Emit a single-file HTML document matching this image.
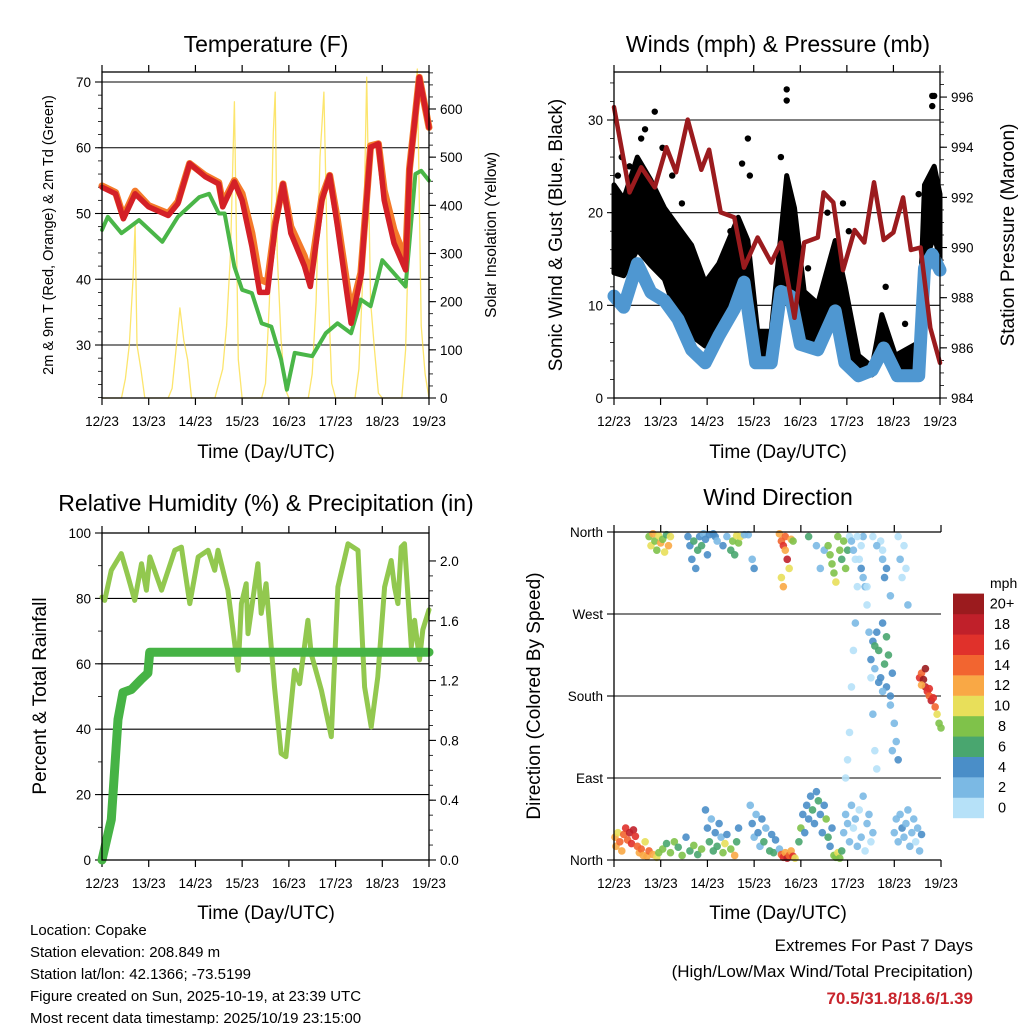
<!DOCTYPE html>
<html><head><meta charset="utf-8"><style>
html,body{margin:0;padding:0;background:#fff}
svg{display:block;font-family:"Liberation Sans",sans-serif}
</style></head><body>
<svg id="fig" width="1024" height="1024" viewBox="0 0 1024 1024">
<rect width="1024" height="1024" fill="#fff"/>
<text x="266" y="52" font-size="23" text-anchor="middle">Temperature (F)</text>
<text x="778" y="52" font-size="23" text-anchor="middle">Winds (mph) &amp; Pressure (mb)</text>
<text x="266" y="511" font-size="23" text-anchor="middle">Relative Humidity (%) &amp; Precipitation (in)</text>
<text x="778" y="505" font-size="23" text-anchor="middle">Wind Direction</text>
<text x="266" y="458" font-size="19" text-anchor="middle">Time (Day/UTC)</text>
<text x="778" y="458" font-size="19" text-anchor="middle">Time (Day/UTC)</text>
<text x="266" y="919" font-size="19" text-anchor="middle">Time (Day/UTC)</text>
<text x="778" y="919" font-size="19" text-anchor="middle">Time (Day/UTC)</text>
<text transform="translate(53,235) rotate(-90)" font-size="14.5" text-anchor="middle">2m &amp; 9m T (Red, Orange) &amp; 2m Td (Green)</text>
<text transform="translate(496,235) rotate(-90)" font-size="15.5" text-anchor="middle">Solar Insolation (Yellow)</text>
<text transform="translate(562,235) rotate(-90)" font-size="19" text-anchor="middle">Sonic Wind &amp; Gust (Blue, Black)</text>
<text transform="translate(1014,235) rotate(-90)" font-size="19" text-anchor="middle">Station Pressure (Maroon)</text>
<text transform="translate(46,696) rotate(-90)" font-size="19" text-anchor="middle">Percent &amp; Total Rainfall</text>
<text transform="translate(540,696) rotate(-90)" font-size="19" text-anchor="middle">Direction (Colored By Speed)</text>
<g font-size="15">
<text x="30" y="935">Location: Copake</text>
<text x="30" y="957">Station elevation: 208.849 m</text>
<text x="30" y="979">Station lat/lon: 42.1366; -73.5199</text>
<text x="30" y="1001">Figure created on Sun, 2025-10-19, at 23:39 UTC</text>
<text x="30" y="1023">Most recent data timestamp: 2025/10/19 23:15:00</text>
</g>
<text x="973" y="951" font-size="17" text-anchor="end">Extremes For Past 7 Days</text>
<text x="973" y="977" font-size="17" text-anchor="end">(High/Low/Max Wind/Total Precipitation)</text>
<text x="973" y="1004" font-size="17" font-weight="bold" fill="#c8242c" text-anchor="end">70.5/31.8/18.6/1.39</text>
</svg>
<script>
// ---------- DATA ----------
const dayLabels=["12/23","13/23","14/23","15/23","16/23","17/23","18/23","19/23"];
const tempHours=[0,7,11,17,24,34,39,45,53,60,62,68,72,77,81,85,89,93,97,104,107,113,117,121,128,133,138,142,145,150,156,158,163,168];
const tempRed=[54,53,49.2,53,51,49.7,51.5,57.6,55.6,54.5,51,54.8,52,45,38,38,48,54.5,47,42,38.9,52,55.8,48,33.3,40.4,60.1,60.6,52,45.5,41.4,56.6,70.7,63.1];
const tempOrange=[54.2,53.2,49.5,53.4,51.2,50,51.8,57.6,55.8,54.7,51.5,55,53,47,40,39.5,48.5,54.5,48,43.5,40.5,52.5,55.8,49,35,41,60.3,60.6,53.5,47.5,43,56.8,70.7,63.1];
const dewHours=[0,3,10,19,31,39,50,55,60,63,68,72,77,82,87,92,95,99,108,115,121,128,133,138,144,150,156,161,164,168];
const dewPoint=[47.5,49.5,47,49,45.7,49.5,52.5,53,50,50,41.9,38.4,37.9,33.3,32.8,27.8,23.2,28.8,28.3,31.8,33.3,31.8,36.9,35.9,42.9,40.9,38.9,56,56.5,55];
const solarHours=[0,10,12,14,16,17,18,20,22,24,34,36,38,40,42,44,46,48,58,60,62,64,66,68,70,72,82,84,86,88,89,90,92,94,96,106,108,110,112,114,116,118,120,130,132,134,136,138,140,142,144,154,156,158,160,162,164,166,168];
const solarVals=[0,0,40,110,250,360,110,60,0,0,0,20,100,187,120,80,0,0,0,30,60,150,300,615,80,0,0,30,200,550,635,300,120,20,0,0,50,200,500,635,250,30,0,0,60,250,666,200,100,10,0,0,100,400,560,683,150,50,0];
const presHours=[0,4,8,14,21,27,32,38,45,49,55,62,67,74,81,86,93,98,105,108,113,118,124,129,134,139,144,149,153,158,163,168];
const pressure=[995.6,993.9,992.2,993.2,992.4,994.0,993.0,995.1,993.1,993.9,991.4,991.2,989.2,990.4,989.4,990.2,987.2,990.2,990.4,992.2,991.8,989.1,990.7,990.2,992.6,990.3,990.6,992.0,989.9,990.0,986.8,985.4];
const windHours=[0,5,12,19,26,33,40,47,54,62,67,73,81,86,91,96,105,114,119,126,133,139,146,157,160,164,168];
const windSpeed=[11,9.8,14.5,11.4,10.5,8.5,5.2,3.8,6.7,9.6,12.5,3.8,3.8,11.5,11,5.8,5.2,9.4,3.8,2.4,3,5.4,2.4,2.4,14,15.5,13.8];
const gustHours=[0,5,12,19,26,33,40,47,54,64,69,74,81,89,93,98,105,114,119,126,133,138,145,157,160,165,168];
const gustHigh=[23,21.5,26,23.5,20.5,18.5,16.5,12.5,14.5,19.5,17,7.2,7.2,24,20.5,11.5,10.2,17,12.2,4.6,3.4,9,4.6,6,23,25,22];
const gustLow=[13.5,13.2,16,14.3,12.8,8.5,6.7,5.6,7.8,11,10.5,4.1,4.1,13.8,11.4,5.6,5.6,11,5.9,2.9,2.5,4.9,2.9,3.2,14.5,17.5,15];
const gustOutHours=[21,16,89,89,69,66,164,165,164,157,118,121,4,8,25,30,35,60,70,86,100,110,140,150,2,14];
const gustOutVals=[30.9,29,33.3,32.1,28,25.3,32.6,32.6,31.5,22,21,18,26,25,27,24,21,18,24,26,14,20,12,8,24,28];
const rhHours=[0,1.4,4.8,9.9,13.4,16.8,20.3,22.8,24.6,30.6,37.4,40.8,45.1,49.4,54.5,57.9,59.6,64.7,69.9,71.6,74.1,75,80.1,81.8,84.3,88.6,92,94.5,98.9,101.5,105.8,107.5,112.7,117.8,121.2,126.4,131.5,134.9,138.3,141.7,145.2,148.6,150.3,152,153.7,155.4,158.9,160.6,163.1,164.8,168];
const rhVals=[80.4,79.4,88.6,93.7,86.6,79.4,90.6,82.5,92.7,82.5,94.7,95.7,78.4,92.7,94.7,88.6,94.7,82.5,58,78.4,84.5,69.2,90.6,75.4,84.5,52.9,32.6,31.6,58,53.9,73.3,63.1,51.9,37.7,83.5,96.7,94.7,52.9,40.7,56,83.5,91.6,83.5,78.4,95.7,96.7,65.2,73.3,61.2,70.4,76.5];
const precipHours=[0,4.8,8.2,10.8,15.1,20.3,23.6,24.5,30.6,168];
const precipVals=[0,0.27,0.94,1.12,1.14,1.21,1.25,1.39,1.39,1.39];
const dirHours=[0.5,1,2,3,4,5,6,7,8,9,10,11,12,13,14,15,16,17,18,20,22,23,25,27,29,31,33,35,37,39,41,43,45,47,48,49,50,51,52,53,54,55,56,57,58,60,62,63,64,70,71,72,73,74,75,76,77,78,80,81,82,83,85,86,87,88,89,90,91,92,93,95,96,97,98,99,100,101,102,103,104,105,106,107,108,109,110,111,112,113,114,115,116,117,118,119,120,121,122,123,124,125,126,127,128,129,130,131,132,133,144,145,146,147,148,149,150,151,152,153,154,155,156,157,158,119,120,121,122,123,124,125,126,127,128,129,130,131,132,133,134,135,137,138,139,132,133,134,135,136,137,138,139,140,141,142,143,138,136,140,142,134,144,145,146,143,157,158,159,160,161,162,163,164,165,166,167,168,158,160,162,18,19,20,21,22,23,24,25,26,27,28,29,38,39,40,41,42,43,44,45,46,47,48,49,51,52,53,56,58,60,61,62,63,64,65,67,69,71,72,85,86,87,88,89,90,86,87,88,91,92,100,104,106,108,110,111,112,113,114,115,116,117,118,119,120,121,122,123,124,125,127,128,130,133,135,138,140,142,146,147,148,149,150,151];
const dirDeg=[25,15,30,20,10,28,35,22,30,18,33,26,15,8,12,5,20,4,10,6,3,8,12,18,8,20,14,5,25,10,16,6,12,55,35,20,45,10,30,15,40,25,8,18,28,12,5,20,35,60,40,25,50,30,15,45,20,35,10,28,8,22,12,6,3,8,2,5,10,4,2,20,35,50,30,60,45,70,55,40,75,65,50,30,60,45,25,15,35,5,3,8,2,10,30,50,40,20,60,35,45,15,55,25,70,10,40,50,20,30,30,45,20,50,35,25,40,55,15,30,45,20,35,10,28,90,110,140,190,230,260,300,330,345,355,300,280,250,200,160,120,100,350,330,310,220,240,210,250,230,200,260,215,190,225,180,205,185,195,245,170,235,150,130,110,120,200,205,198,190,185,180,175,178,168,160,150,145,192,210,188,355,345,358,350,340,356,348,352,338,357,345,355,355,345,330,350,320,340,355,345,358,352,335,357,358,355,350,345,355,340,350,335,356,348,355,357,357,330,320,358,350,345,340,330,320,310,300,355,352,350,355,345,320,340,345,335,325,315,305,355,340,330,350,320,340,355,350,340,330,355,320,310,300,355,345,340,320,290,355,330,310,345,320,280];
const dirSpeed=[12,12,10,14,12,14,16,14,18,16,18,16,14,12,14,12,10,12,14,12,10,8,8,6,8,8,6,8,4,6,8,6,8,4,4,6,2,6,4,6,4,2,8,10,4,8,12,6,4,2,4,2,2,4,2,4,6,2,6,4,6,4,2,14,16,12,18,14,12,16,10,6,8,4,4,4,4,4,6,4,4,6,4,4,4,8,6,4,4,8,8,10,8,6,2,2,2,2,2,0,2,2,0,2,2,0,2,2,0,2,2,2,2,2,4,2,2,2,2,2,2,0,2,2,4,0,0,0,0,0,2,0,0,0,2,2,0,2,0,2,0,0,0,2,4,4,4,2,4,6,4,4,6,4,6,4,4,2,4,6,2,6,2,2,4,2,16,14,20,18,16,14,18,16,14,10,8,8,12,20,16,8,10,12,8,8,10,12,8,10,6,12,10,4,4,4,6,4,6,4,6,2,4,4,4,4,4,2,4,2,6,8,6,10,8,10,2,2,2,4,12,14,16,12,18,10,10,12,14,12,8,6,2,2,2,8,8,8,8,10,8,8,6,8,8,6,0,2,2,0,0,4,2,0,0,2,0,4,2,0,2,0,0,0,2];
const speedColors=["#b6e1f8","#7bb9e4","#4a8ec8","#49a66f","#7fc24a","#e8df5a","#f9a845","#f26530","#e0312b","#c0202a","#9b1b1e"];
const speedLabels=["0","2","4","6","8","10","12","14","16","18","20+"];
const tempTicks=[30,40,50,60,70];
const solarTicks=[0,100,200,300,400,500,600];
const windTicks=[0,10,20,30];
const presTicks=[984,986,988,990,992,994,996];
const rhTicks=[0,20,40,60,80,100];
const precipTicks=[0,0.4,0.8,1.2,1.6,2.0];
const dirTicks=[0,90,180,270,360];
const dirTickLabels=["North","East","South","West","North"];

// ---------- HELPERS ----------
const NS="http://www.w3.org/2000/svg";
const svg=document.getElementById('fig');
function mk(tag,attrs,parent){const e=document.createElementNS(NS,tag);for(const k in attrs)e.setAttribute(k,attrs[k]);(parent||svg).appendChild(e);return e;}
function lin(d0,d1,r0,r1){return v=>r0+(v-d0)*(r1-r0)/(d1-d0);}
function pathD(xs,ys,fx,fy){return xs.map((h,i)=>(i?'L':'M')+fx(h).toFixed(1)+','+fy(ys[i]).toFixed(1)).join('');}

function frame(P,name){
  const g=mk('g',{});
  
  
  const fx=lin(0,168,P.x0,P.x1);
  for(let d=0;d<=7;d++){
    const x=fx(d*24);
    const t1=mk('line',{x1:x,x2:x,y1:P.y1,y2:P.y1+7,stroke:'#000','stroke-width':1.2},g);
    
    
    const t2=mk('line',{x1:x,x2:x,y1:P.y0-7,y2:P.y0,stroke:'#000','stroke-width':1.2},g);
    
    
    const lb=mk('text',{x:x,y:P.y1+28,'font-size':13.5,'text-anchor':'middle'},g);
    lb.textContent=dayLabels[d];
    
    
  }
  return fx;
}
function yAxis(P,g,ticks,labels,fy,side,grid,minorStep,dmin,dmax){
  const xa=side==='l'?P.x0:P.x1;
  ticks.forEach((v,i)=>{
    const y=fy(v);
    if(grid){const gl=mk('line',{x1:P.x0,x2:P.x1,y1:y,y2:y,stroke:'#000','stroke-width':1.1},g);
      
      }
    const tk=mk('line',{x1:xa,x2:side==='l'?xa-7:xa+7,y1:y,y2:y,stroke:'#000','stroke-width':1.1},g);
    
    
    const lb=mk('text',{x:side==='l'?xa-11:xa+11,y:y+5,'font-size':13.5,'text-anchor':side==='l'?'end':'start'},g);
    lb.textContent=labels?labels[i]:String(v);
    
    
  });
  if(minorStep){
    for(let v=Math.ceil(dmin/minorStep)*minorStep;v<=dmax;v+=minorStep){
      const y=fy(v);
      const mt=mk('line',{x1:xa,x2:side==='l'?xa-4:xa+4,y1:y,y2:y,stroke:'#000','stroke-width':0.8},g);
      
      
    }
  }
}
function border(P,name){
  const r=mk('rect',{x:P.x0,y:P.y0,width:P.x1-P.x0,height:P.y1-P.y0,fill:'none',stroke:'#000','stroke-width':1.3});
  
  
}
function line(xs,ys,fx,fy,color,w,name,op){
  const p=mk('path',{d:pathD(xs,ys,fx,fy),fill:'none',stroke:color,'stroke-width':w,'stroke-linejoin':'round','stroke-linecap':'round','stroke-opacity':op||1});
  
  
  return p;
}

// ---------- PANEL 1: TEMPERATURE ----------
const P1={x0:102,x1:429,y0:72,y1:398};
const fx1=frame(P1,'temperature');
const fyT=lin(21.94,71.52,P1.y1,P1.y0);
const fyS=lin(0,676.8,P1.y1,P1.y0);
const g1=mk('g',{});


yAxis(P1,g1,tempTicks,null,fyT,'l',true,2,22,70);
yAxis(P1,g1,solarTicks,null,fyS,'r',false,25,0,675);
line(solarHours,solarVals,fx1,fyS,'#fbdc3c',1.3,'solar-insolation-line',0.75);
line(dewHours,dewPoint,fx1,fyT,'#4ab648',4,'dewpoint-line');
line(tempHours,tempOrange,fx1,fyT,'#f47a2a',7,'temp-9m-line');
line(tempHours,tempRed,fx1,fyT,'#d42027',5.5,'temp-2m-line');
border(P1,'temperature');

// ---------- PANEL 2: WINDS ----------
const P2={x0:614,x1:940,y0:72,y1:398};
const fx2=frame(P2,'winds');
const fyW=lin(0,35.18,P2.y1,P2.y0);
const fyP=lin(984,997.0,P2.y1,P2.y0);
const g2=mk('g',{});


yAxis(P2,g2,windTicks,null,fyW,'l',true,2,0,34);
yAxis(P2,g2,presTicks,null,fyP,'r',false,0.5,984,997);
const bandD=pathD(gustHours,gustHigh,fx2,fyW)+gustHours.slice().reverse().map((h,i)=>'L'+fx2(h).toFixed(1)+','+fyW(gustLow[gustLow.length-1-i]).toFixed(1)).join('')+'Z';
const band=mk('path',{d:bandD,fill:'#000',stroke:'#000','stroke-width':5,'stroke-linejoin':'round'});


gustOutHours.forEach((h,i)=>{
  const c=mk('circle',{cx:fx2(h),cy:fyW(gustOutVals[i]),r:3.2,fill:'#000'});
  
  
});
line(windHours,windSpeed,fx2,fyW,'#4f97d1',13,'sonic-wind-line');
line(presHours,pressure,fx2,fyP,'#9b1b1e',4.5,'pressure-line');
border(P2,'winds');

// ---------- PANEL 3: RH & PRECIP ----------
const P3={x0:102,x1:429,y0:533,y1:860};
const fx3=frame(P3,'humidity');
const fyR=lin(0,100,P3.y1,P3.y0);
const fyPr=lin(0,2.187,P3.y1,P3.y0);
const g3=mk('g',{});


yAxis(P3,g3,rhTicks,null,fyR,'l',true,10,0,100);
yAxis(P3,g3,precipTicks,precipTicks.map(v=>v.toFixed(1)),fyPr,'r',false,0.1,0,2.1);
line(rhHours,rhVals,fx3,fyR,'#92c84f',5,'relative-humidity-line');
line(precipHours,precipVals,fx3,fyPr,'#46b345',9,'precipitation-line');
border(P3,'humidity');

// ---------- PANEL 4: WIND DIRECTION ----------
const P4={x0:614,x1:941,y0:532,y1:860};
const fx4=frame(P4,'direction');
const fyD=lin(0,360,P4.y1,P4.y0);
const g4=mk('g',{});


yAxis(P4,g4,dirTicks,dirTickLabels,fyD,'l',true,0,0,0);
dirHours.forEach((h,i)=>{
  const ci=Math.min(10,Math.floor(dirSpeed[i]/2));
  const c=mk('circle',{cx:fx4(h),cy:fyD(dirDeg[i]),r:3.8,fill:speedColors[ci],'fill-opacity':0.9},g4);
  
  
});
const bl=mk('line',{x1:P4.x0,x2:P4.x1,y1:P4.y0,y2:P4.y0,stroke:'#000','stroke-width':1.2});


const ll=mk('line',{x1:P4.x0,x2:P4.x0,y1:P4.y0,y2:P4.y1,stroke:'#000','stroke-width':1.3});


const bt=mk('line',{x1:P4.x0,x2:P4.x1,y1:P4.y1,y2:P4.y1,stroke:'#000','stroke-width':1.3});



// colorbar
const cb=mk('g',{});


const cbt=mk('text',{x:990,y:588,'font-size':14,'text-anchor':'start'},cb);
cbt.textContent='mph';


speedColors.forEach((col,i)=>{
  const y=818-(i+1)*20.4;
  const r=mk('rect',{x:953,y:y,width:31,height:20.6,fill:col},cb);
  
  
  const t=mk('text',{x:1002,y:y+15,'font-size':14.5,'text-anchor':'middle'},cb);
  t.textContent=speedLabels[i];
  
  
});
</script>
</body></html>
